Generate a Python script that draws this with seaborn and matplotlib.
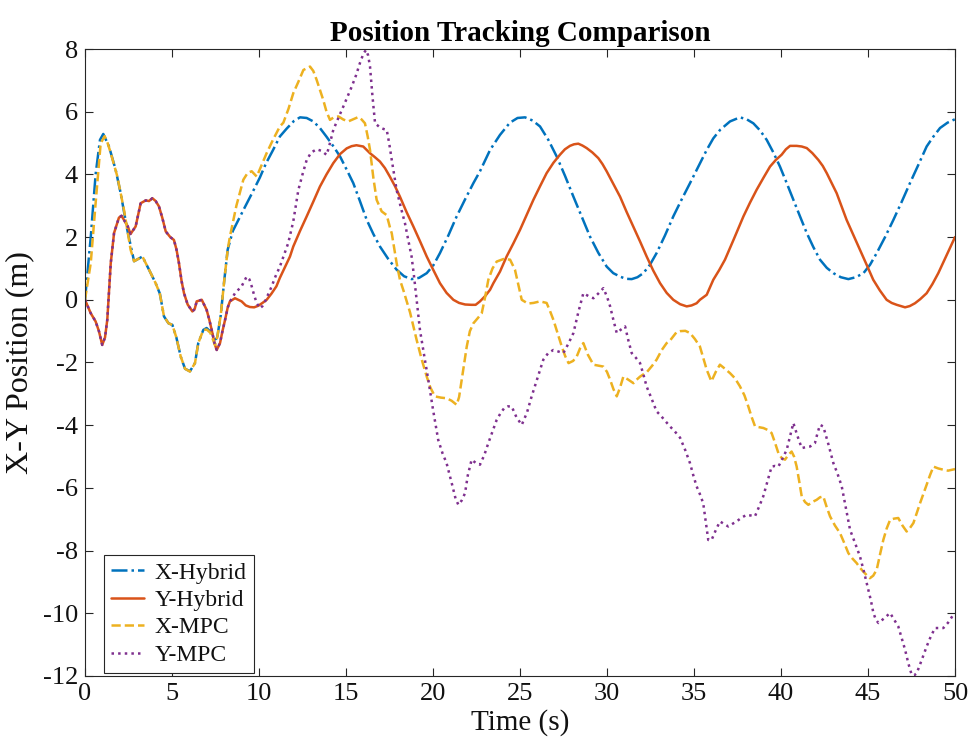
import matplotlib
matplotlib.use("Agg")
import matplotlib.pyplot as plt
import seaborn as sns
import pandas as pd

# X-Hybrid (m) vs time (s)
t_xh = [0.0, 0.33, 0.61, 0.86, 1.05, 1.38, 1.76, 2.05, 2.43, 2.82, 3.05, 3.3, 3.68, 4.06, 4.3, 4.54,
        4.8, 5.02, 5.25, 5.5, 5.75, 6.03, 6.32, 6.51, 6.8, 6.99, 7.28, 7.57, 7.8, 8.0, 8.2, 8.5,
        9.1, 9.6, 10.05, 10.4, 10.8, 11.2, 11.59, 12.0, 12.36, 12.74, 13.12, 13.5, 13.87, 14.27,
        14.66, 15.04, 15.42, 15.8, 16.19, 16.57, 16.95, 17.43, 17.91, 18.34, 18.77, 19.2, 19.64,
        20.02, 20.4, 20.88, 21.36, 21.84, 22.32, 22.7, 23.28, 23.85, 24.42, 24.86, 25.29, 25.72,
        26.15, 26.63, 27.11, 27.59, 28.07, 28.55, 29.02, 29.5, 29.98, 30.36, 30.75, 31.08, 31.42,
        31.75, 32.09, 32.47, 32.85, 33.33, 33.81, 34.29, 34.77, 35.25, 35.73, 36.11, 36.5, 37.07,
        37.64, 38.02, 38.41, 38.8, 39.18, 39.56, 39.94, 40.33, 40.71, 41.1, 41.48, 41.86, 42.24,
        42.63, 43.01, 43.44, 43.87, 44.3, 44.74, 45.12, 45.5, 45.98, 46.46, 46.94, 47.41, 47.89,
        48.37, 48.75, 49.14, 49.57, 50.0]
v_xh = [0.0, 2.0, 4.0, 5.1, 5.29, 4.89, 4.15, 3.4, 2.23, 1.23, 1.3, 1.38, 0.96, 0.53, 0.2, -0.53,
        -0.75, -0.8, -1.2, -1.81, -2.2, -2.28, -2.02, -1.38, -0.96, -0.9, -1.06, -1.3, -0.5, 0.6,
        1.6, 2.2, 2.86, 3.4, 3.9, 4.35, 4.77, 5.21, 5.46, 5.7, 5.82, 5.8, 5.69, 5.48, 5.21, 4.9,
        4.57, 4.15, 3.72, 3.15, 2.55, 2.1, 1.7, 1.3, 0.96, 0.75, 0.66, 0.7, 0.85, 1.1, 1.49, 2.05,
        2.66, 3.2, 3.72, 4.1, 4.78, 5.26, 5.65, 5.8, 5.82, 5.72, 5.53, 5.1, 4.57, 3.95, 3.29, 2.65,
        2.02, 1.5, 1.06, 0.85, 0.74, 0.67, 0.66, 0.72, 0.85, 1.12, 1.49, 2.05, 2.66, 3.2, 3.72,
        4.25, 4.78, 5.15, 5.42, 5.69, 5.82, 5.76, 5.63, 5.4, 5.1, 4.7, 4.25, 3.72, 3.19, 2.65,
        2.13, 1.68, 1.28, 1.02, 0.85, 0.72, 0.66, 0.72, 0.85, 1.12, 1.49, 2.0, 2.55, 3.13, 3.72,
        4.3, 4.89, 5.2, 5.48, 5.65, 5.76]

# Y-Hybrid
t_yh = [0.0, 0.33, 0.61, 0.8, 0.99, 1.15, 1.28, 1.48, 1.67, 1.95, 2.1, 2.24, 2.45, 2.62, 2.91, 3.2,
        3.49, 3.68, 3.87, 4.06, 4.25, 4.45, 4.64, 4.9, 5.11, 5.26, 5.4, 5.55, 5.69, 5.9, 6.17, 6.3,
        6.42, 6.71, 6.99, 7.15, 7.28, 7.45, 7.57, 7.76, 7.9, 8.05, 8.2, 8.33,
        8.62, 9.0, 9.24, 9.48, 9.72, 9.96, 10.2, 10.44, 10.72, 11.0, 11.2, 11.5, 11.78, 11.97,
        12.36, 12.74, 13.12, 13.5, 13.88, 14.27, 14.66, 15.04, 15.32, 15.6, 15.99, 16.37, 16.66,
        16.95, 17.24, 17.52, 17.81, 18.1, 18.48, 18.87, 19.26, 19.64, 20.02, 20.4, 20.78, 21.17,
        21.5, 21.85, 22.2, 22.45, 22.7, 23.0, 23.28, 23.47, 23.85, 24.23, 24.62, 25.0, 25.38,
        25.77, 26.15, 26.53, 26.92, 27.3, 27.58, 27.87, 28.1, 28.35, 28.59, 28.83, 29.16, 29.5,
        29.74, 29.98, 30.36, 30.75, 31.13, 31.51, 31.9, 32.28, 32.66, 33.05, 33.43, 33.81, 34.2,
        34.58, 34.86, 35.15, 35.34, 35.73, 36.11, 36.45, 36.78, 37.3, 37.84, 38.22, 38.6, 39.0,
        39.37, 39.7, 40.04, 40.28, 40.52, 40.9, 41.19, 41.48, 41.8, 42.15, 42.4, 42.63, 42.9,
        43.2, 43.48, 43.77, 44.15, 44.54, 44.92, 45.3, 45.68, 46.07, 46.36, 46.65, 47.13, 47.4,
        47.7, 48.0, 48.37, 48.7, 49.04, 49.5, 50.0]
v_yh = [0.0, -0.43, -0.69, -1.0, -1.44, -1.2, -0.64, 1.17, 2.13, 2.62, 2.68, 2.55, 2.35, 2.1, 2.34,
        3.08, 3.17, 3.15, 3.24, 3.15, 2.98, 2.6, 2.18, 2.0, 1.91, 1.6, 1.17, 0.6, 0.21, -0.15, -0.37,
        -0.3, -0.05, 0.0, -0.32, -0.65, -0.96, -1.4, -1.6, -1.38, -1.0, -0.64, -0.25, -0.05,
        0.05, -0.05, -0.18, -0.23, -0.24, -0.19, -0.1, 0.0, 0.2, 0.43, 0.7, 1.05, 1.38, 1.7,
        2.2, 2.66, 3.13, 3.61, 4.0, 4.36, 4.65, 4.83, 4.9, 4.93, 4.89, 4.68, 4.55,
        4.41, 4.2, 3.93, 3.63, 3.29, 2.8, 2.34, 1.86, 1.38, 0.95, 0.53, 0.22, 0.0,
        -0.1, -0.15, -0.16, -0.16, -0.05, 0.12, 0.32, 0.53, 0.9, 1.38, 1.8, 2.23, 2.7,
        3.19, 3.62, 4.04, 4.37, 4.63, 4.8, 4.91, 4.96, 4.98, 4.92, 4.84, 4.7, 4.52,
        4.33, 4.1, 3.7, 3.29, 2.8, 2.34, 1.86, 1.38, 0.93, 0.53, 0.22, 0.0, -0.14,
        -0.21, -0.18, -0.11, 0.0, 0.16, 0.64, 0.95, 1.28, 1.95, 2.66, 3.1, 3.51, 3.9,
        4.25, 4.46, 4.63, 4.8, 4.91, 4.91, 4.89, 4.84, 4.68, 4.46, 4.27, 4.04, 3.74,
        3.4, 2.98, 2.55, 2.08, 1.6, 1.12, 0.64, 0.3, 0.0, -0.1, -0.16, -0.24, -0.2,
        -0.11, 0.02, 0.21, 0.5, 0.85, 1.4, 2.0]

# X-MPC
t_xm = [0.0, 0.33, 0.61, 0.9, 1.13, 1.3, 1.48, 1.86, 2.05, 2.24, 2.43, 2.62, 2.82, 3.05, 3.3, 3.68,
        4.06, 4.3, 4.54, 4.8, 5.02, 5.25, 5.5, 5.75, 6.03, 6.32, 6.51, 6.8, 7.0, 7.2, 7.47, 7.6,
        7.8, 8.0, 8.2, 8.33, 8.7, 9.1, 9.35, 9.58, 9.87, 10.15, 10.44, 10.8, 11.2, 11.4, 11.7,
        11.97, 12.26, 12.55, 12.93, 13.12, 13.31, 13.5, 13.69, 13.88, 14.08, 14.3, 14.56, 14.85,
        15.13, 15.42, 15.71, 15.9, 16.09, 16.25, 16.38, 16.57, 16.76, 17.05, 17.34, 17.53, 17.63,
        17.91, 18.1, 18.3, 18.68, 19.06, 19.35, 19.64, 19.85, 20.11, 20.45, 20.78, 21.07, 21.36,
        21.5, 21.65, 21.94, 22.12, 22.32, 22.55, 22.8, 23.0, 23.18, 23.42, 23.66, 24.05, 24.43,
        24.71, 24.9, 25.1, 25.45, 25.77, 26.15, 26.53, 26.72, 26.92, 27.15, 27.4, 27.6, 27.79,
        28.05, 28.26, 28.45, 28.64, 28.9, 29.22, 29.5, 29.79, 30.0, 30.18, 30.37, 30.56, 30.75,
        30.94, 31.23, 31.52, 31.7, 31.9, 32.3, 32.6, 32.85, 33.15, 33.43, 33.62, 34.0, 34.2, 34.5,
        34.77, 35.05, 35.34, 35.53, 35.73, 36.0, 36.25, 36.49, 36.78, 37.07, 37.35, 37.64, 37.9,
        38.12, 38.32, 38.51, 38.99, 39.23, 39.46, 39.65, 39.85, 40.04, 40.23, 40.42, 40.61, 40.75,
        40.9, 41.05, 41.19, 41.38, 41.57, 41.8, 42.05, 42.24, 42.43, 42.62, 42.82, 43.1, 43.39,
        43.63, 43.87, 44.1, 44.35, 44.54, 44.73, 44.92, 45.11, 45.3, 45.5, 45.7, 45.88, 46.07,
        46.27, 46.5, 46.74, 46.98, 47.22, 47.41, 47.61, 47.8, 47.99, 48.18, 48.37, 48.56, 48.76,
        49.04, 49.33, 49.6, 50.0]
v_xm = [0.0, 1.17, 3.08, 4.99, 5.22, 5.0, 4.68, 3.93, 3.4, 2.87, 2.23, 1.6, 1.23, 1.3, 1.38, 0.96,
        0.53, 0.2, -0.53, -0.75, -0.8, -1.2, -1.81, -2.2, -2.29, -2.02, -1.38, -0.96, -0.95, -1.05,
        -1.44, -1.2, -0.5, 0.6, 1.6, 2.02, 3.0, 3.83, 4.05, 4.1, 3.93, 4.3, 4.68, 5.1, 5.53, 5.65,
        6.1, 6.59, 6.95, 7.33, 7.44, 7.3, 7.02, 6.7, 6.38, 6.0, 5.74, 5.82, 5.85, 5.75, 5.69, 5.76,
        5.83, 5.75, 5.63, 5.2, 4.78, 3.9, 3.19, 2.82, 2.7, 2.3, 2.12, 1.17, 0.64, 0.3, -0.4, -1.28,
        -1.9, -2.45, -2.8, -3.08, -3.12, -3.14, -3.22, -3.35, -3.1, -2.55, -1.49, -1.0, -0.75,
        -0.6, -0.43, 0.1, 0.64, 1.0, 1.22, 1.3, 1.28, 0.96, 0.5, 0.0, -0.12, -0.1, -0.05, -0.1,
        -0.35, -0.64, -1.05, -1.49, -1.8, -2.02, -1.95, -1.81, -1.55, -1.38, -1.75, -2.07, -2.1,
        -2.13, -2.3, -2.55, -2.85, -3.08, -2.8, -2.45, -2.55, -2.66, -2.55, -2.45, -2.3, -2.1,
        -1.91, -1.6, -1.38, -1.3, -1.03, -1.0, -0.99, -1.06, -1.25, -1.49, -1.85, -2.23, -2.6,
        -2.3, -2.07, -2.2, -2.34, -2.5, -2.76, -3.05, -3.4, -3.75, -4.04, -4.09, -4.15, -4.25,
        -4.55, -4.89, -5.05, -5.1, -4.95, -4.84, -5.0, -5.32, -5.8, -6.27, -6.45, -6.54, -6.45,
        -6.38, -6.3, -6.27, -6.6, -6.91, -7.2, -7.44, -7.75, -8.08, -8.25, -8.4, -8.55, -8.67,
        -8.78, -8.88, -8.8, -8.61, -8.1, -7.66, -7.3, -7.02, -6.98, -6.96, -7.2, -7.39, -7.28,
        -7.12, -6.8, -6.49, -6.2, -5.9, -5.6, -5.32, -5.38, -5.42, -5.45, -5.4]

# Y-MPC: identical to Y-Hybrid up to t = 8.33 s, then diverges
n_shared = t_yh.index(8.33) + 1
t_ym = t_yh[:n_shared] + [
    8.45, 8.62, 9.0, 9.29, 9.45, 9.58, 9.72, 9.87, 10.06, 10.2, 10.35, 10.55, 10.73, 10.95, 11.2,
    11.45, 11.68, 11.78, 11.97, 12.26, 12.5, 12.74, 13.0, 13.31, 13.6, 13.89, 14.08, 14.27, 14.56,
    14.85, 15.1, 15.33, 15.57, 15.8, 16.0, 16.15, 16.27, 16.38, 16.52, 16.67, 16.95, 17.15, 17.34,
    17.48, 17.63, 17.91, 18.15, 18.39, 18.58, 18.77, 18.92, 19.06, 19.25, 19.5, 19.73, 20.0, 20.3,
    20.55, 20.78, 21.1, 21.3, 21.46, 21.65, 21.84, 22.0, 22.22, 22.45, 22.7, 22.95, 23.18, 23.42,
    23.66, 23.9, 24.1, 24.3, 24.52, 24.8, 25.1, 25.4, 25.67, 26.0, 26.34, 26.62, 26.92, 27.2,
    27.49, 27.78, 28.07, 28.35, 28.64, 28.93, 29.22, 29.5, 29.79, 30.0, 30.18, 30.37, 30.56, 30.8,
    31.04, 31.23, 31.42, 31.66, 31.9, 32.1, 32.28, 32.56, 32.85, 33.05, 33.33, 33.62, 33.9, 34.2,
    34.5, 34.77, 34.96, 35.15, 35.34, 35.53, 35.68, 35.82, 36.01, 36.25, 36.49, 36.73, 36.97,
    37.2, 37.45, 37.73, 38.02, 38.26, 38.5, 38.74, 38.98, 39.22, 39.46, 39.65, 39.85, 40.1, 40.33,
    40.52, 40.71, 40.95, 41.19, 41.43, 41.67, 41.95, 42.1, 42.24, 42.43, 42.72, 43.01, 43.25,
    43.49, 43.73, 43.97, 44.25, 44.54, 44.78, 45.02, 45.17, 45.31, 45.45, 45.6, 45.95, 46.27,
    46.5, 46.74, 46.94, 47.13, 47.32, 47.51, 47.65, 47.8, 48.08, 48.37, 48.6, 48.85, 49.1, 49.33,
    49.6, 49.9, 50.0]
v_ym = v_yh[:n_shared] + [
    0.05, 0.21, 0.43, 0.74, 0.65, 0.43, 0.15, -0.11, -0.27, -0.2, -0.05, 0.2, 0.43, 0.75, 1.06,
    1.45, 1.81, 2.05, 2.5, 3.5, 4.0, 4.46, 4.7, 4.8, 4.75, 4.62, 5.0, 5.42, 5.8,
    6.17, 6.5, 6.8, 7.15, 7.55, 7.85, 7.97, 7.8, 7.44, 6.5, 5.63, 5.5, 5.45, 5.42,
    5.0, 4.46, 3.5, 2.95, 2.44, 1.9, 1.38, 0.7, 0.0, -0.96, -1.8, -2.55, -3.5, -4.47,
    -4.9, -5.21, -5.9, -6.35, -6.54, -6.4, -6.17, -5.6, -5.1, -5.2, -5.26, -4.95, -4.57, -4.2,
    -3.83, -3.6, -3.45, -3.4, -3.4, -3.75, -3.99, -3.6, -3.08, -2.5, -1.91, -1.7, -1.6, -1.65,
    -1.7, -1.4, -1.06, -0.4, 0.21, 0.12, 0.05, 0.2, 0.37, 0.1, -0.21, -0.65, -1.06, -0.95,
    -0.85, -1.3, -1.7, -1.85, -2.02, -2.4, -2.77, -3.15, -3.56, -3.67, -3.85, -4.04, -4.2, -4.4,
    -4.8, -5.21, -5.6, -5.95, -6.2, -6.49, -7.1, -7.66, -7.66, -7.35, -7.07, -7.15, -7.23,
    -7.15, -7.07, -6.95, -6.86, -6.88, -6.91, -6.6, -6.27, -5.8, -5.32, -5.3, -5.32, -5.05, -4.78,
    -4.35, -3.93, -4.35, -4.73, -4.7, -4.68, -4.57, -4.25, -3.99, -4.04, -4.6, -5.21, -5.55,
    -5.95, -6.65, -7.34, -7.75, -8.19, -8.7, -9.25, -9.6, -9.99, -10.2, -10.31, -10.15, -9.99,
    -10.2, -10.42, -10.8, -11.16, -11.6, -11.96, -11.98, -11.91, -11.5, -11.06, -10.75, -10.47,
    -10.47, -10.47, -10.3, -10.05, -10.0]

series = [
    ("X-Hybrid", t_xh, v_xh, "#0072BD", "-."),
    ("Y-Hybrid", t_yh, v_yh, "#D95319", "-"),
    ("X-MPC", t_xm, v_xm, "#EDB120", "--"),
    ("Y-MPC", t_ym, v_ym, "#7E2F8E", ":"),
]

sns.set_style("ticks")
plt.rcParams['font.family'] = ['Liberation Serif', 'DejaVu Serif']

fig = plt.figure(figsize=(9.71, 7.53), dpi=100)
ax = fig.add_axes([85 / 971, 1 - 676 / 753, 870 / 971, 627 / 753])

for name, t, v, col, ls in series:
    df = pd.DataFrame({"t": t, "v": v})
    sns.lineplot(data=df, x="t", y="v", ax=ax, color=col, linestyle=ls,
                 linewidth=1.8, label=name, sort=False, estimator=None)

ax.set_xlim(0, 50)
ax.set_ylim(-12, 8)
ax.set_xticks(range(0, 51, 5))
ax.set_yticks(range(-12, 9, 2))
ax.set_xticklabels([str(x) for x in range(0, 51, 5)])
ax.set_yticklabels([str(y) for y in range(-12, 9, 2)])
ax.tick_params(direction="in", length=6, width=0.8, color="#262626", labelcolor="#111111",
               labelsize=19, top=True, right=True, pad=5)
for sp in ax.spines.values():
    sp.set_color("#262626")
    sp.set_linewidth(0.8)

ax.set_xlabel("Time (s)", fontsize=21, color="#111111", labelpad=3)
ax.set_ylabel("X-Y Position (m)", fontsize=23, color="#111111", labelpad=6)
ax.set_title("Position Tracking Comparison", fontsize=21, fontweight="bold",
             color="black", pad=6)

leg = ax.legend(loc="lower left", bbox_to_anchor=(19 / 870, 3 / 627), fontsize=17,
                frameon=True, fancybox=False, framealpha=1, edgecolor="#262626",
                handlelength=1.4, handletextpad=0.45, borderpad=0.3, labelspacing=0.25,
                borderaxespad=0.0)
leg.get_frame().set_linewidth(0.8)
for txt in leg.get_texts():
    txt.set_color("#111111")

fig.savefig("out.png", dpi=100)
